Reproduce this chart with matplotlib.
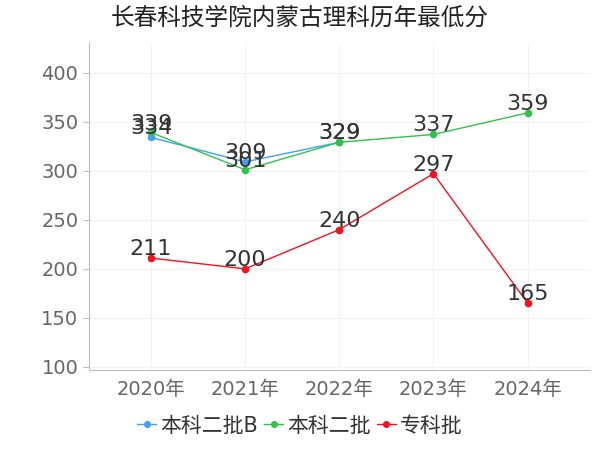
import matplotlib.pyplot as plt

plt.rcParams['font.family'] = ['DejaVu Sans', 'Noto Sans CJK SC']

years = ["2020年", "2021年", "2022年", "2023年", "2024年"]
b_vals = [334, 309, 329]
two_vals = [339, 301, 329, 337, 359]
zk_vals = [211, 200, 240, 297, 165]

series = [
    ("本科二批B", b_vals, "#3fa0f5"),
    ("本科二批", two_vals, "#34c04a"),
    ("专科批", zk_vals, "#f5111f"),
]

fig = plt.figure(figsize=(6, 4.5), dpi=100)
ax = fig.add_axes([0.148, 0.178, 0.835, 0.726])

for name, vals, col in series:
    xs = list(range(len(vals)))
    ax.plot(xs, vals, "-", color=col, linewidth=1, marker="o", markersize=4.5, label=name)
    for x, v in zip(xs, vals):
        ax.text(x, v + 3, str(v), ha="center", va="baseline", fontsize=16, color="#333333")

ax.set_xlim(-0.66, 4.66)
ax.set_ylim(97, 430)
ax.set_yticks([100, 150, 200, 250, 300, 350, 400])
ax.set_xticks(range(len(years)))
ax.set_xticklabels(years)
ax.tick_params(axis="both", labelsize=14, colors="#666666", length=4, color="#bbbbbb")
ax.tick_params(axis="x", length=0, pad=7)
ax.grid(True, color="#f2f2f2", linewidth=0.8)
ax.set_axisbelow(True)
for s in ["top", "right"]:
    ax.spines[s].set_visible(False)
ax.spines["left"].set_color("#bbbbbb")
ax.spines["bottom"].set_color("#bbbbbb")

fig.text(0.5, 0.96, "长春科技学院内蒙古理科历年最低分", ha="center", va="center",
         fontsize=17, color="#222222")
fig.legend(loc="lower center", bbox_to_anchor=(0.5, -0.01), ncol=3, frameon=False,
           fontsize=15, handlelength=0.9, handletextpad=0.2, columnspacing=0.3,
           labelcolor="#333333", markerscale=0.9)

fig.savefig("out.png")
